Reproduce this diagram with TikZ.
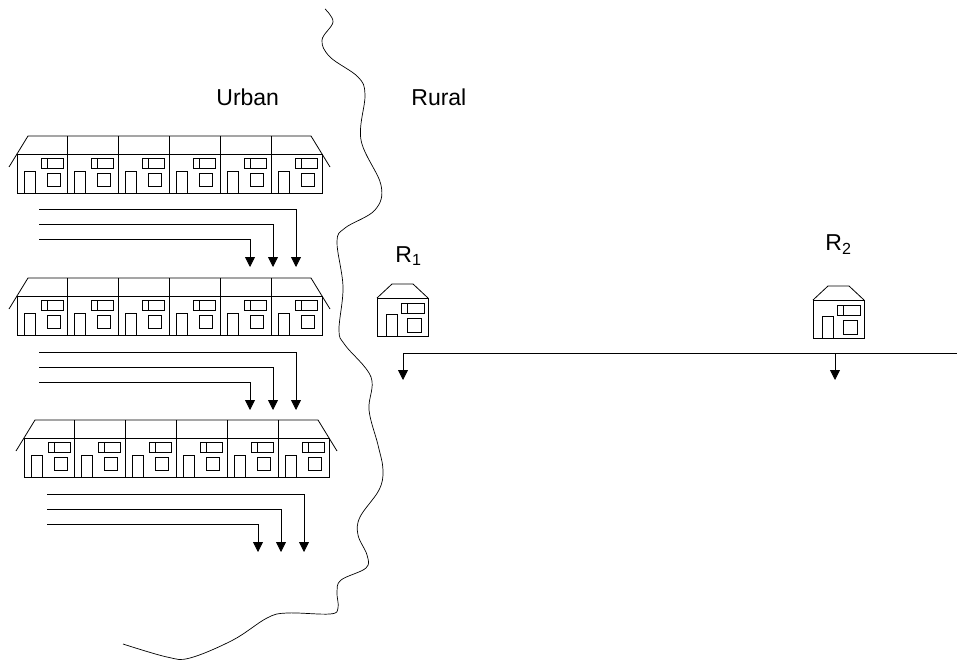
\documentclass[tikz,border=0pt]{standalone}
\usepackage{fontspec}
\setmainfont{Liberation Sans}
\usetikzlibrary{arrows.meta}
\begin{document}
\begin{tikzpicture}[x=1pt,y=-1pt,line width=0.8pt,
  flow/.style={-{Triangle[width=10pt,length=10pt]}},
  caption/.style={font=\fontsize{23}{27}\selectfont,inner sep=0pt,anchor=base west},
  % one dwelling of a terrace, origin at its bottom-left corner
  dwelling/.pic={
    \draw (7,0) rectangle (18,-22);
    \draw (30,-7) rectangle (43,-20);
    \draw (24,-25) rectangle (46,-35);
    \draw (30,-25) -- (30,-35);
  },
  % a row of six terraced houses, origin at the bottom-left wall corner
  terrace/.pic={
    \draw (0,0) rectangle (305,-39);
    \draw (-8,-26) -- (11,-57) -- (294,-57) -- (313,-26);
    \foreach \k in {1,...,5} \draw ({\k*50.833},0) -- ({\k*50.833},-57);
    \foreach \k in {0,...,5} \pic at ({\k*50.833},0) {dwelling};
  },
  % a detached rural house, origin at the bottom-left wall corner
  farmhouse/.pic={
    \draw (0,0) rectangle (51,-38);
    \draw (0,-38) -- (15,-52) -- (36,-52) -- (51,-38);
    \draw (9,0) rectangle (20,-22);
    \draw (24,-23) rectangle (47,-33);
    \draw (30,-23) -- (30,-33);
    \draw (30,-4) rectangle (44,-18);
  }]
\useasboundingbox (0,0) rectangle (957,660);

% boundary between town and countryside
\draw[line width=0.7pt] plot[smooth,tension=0.6] coordinates {
  (325,9) (333,22) (322,40) (330,57) (358,77) (365,95) (361,140) (381,185)
  (375,210) (345,228) (337,242) (343,287) (339,330) (345,345) (371,377)
  (369,410) (378,445) (383,470) (379,490) (360,517) (358,535) (367,555)
  (366,568) (341,580) (337,592) (338,608) (330,614) (287,613) (267,618)
  (233,640) (190,658) (167,657) (123,644)};

% labels
\node[caption] (urban) at (216,106) {Urban};
\node[caption] (rural) at (411,106) {Rural};
\node[caption] (r1) at (395,262) {R\textsubscript{1}};
\node[caption] (r2) at (825,251) {R\textsubscript{2}};

% urban terraces
\pic at (17,193) {terrace};
\pic at (17,335) {terrace};
\pic at (24,477) {terrace};

% rural houses
\pic at (377,336) {farmhouse};
\pic at (813,338) {farmhouse};

% flows below each terrace
\foreach \row/\dx/\dy in {1/0/0, 2/0/143, 3/8/285} {
  \coordinate (s\row a) at (39+\dx,209+\dy);
  \coordinate (s\row b) at (39+\dx,224+\dy);
  \coordinate (s\row c) at (39+\dx,239+\dy);
  \coordinate (t\row a) at (296+\dx,267+\dy);
  \coordinate (t\row b) at (273+\dx,267+\dy);
  \coordinate (t\row c) at (250+\dx,267+\dy);
  \draw[flow] (s\row a) -| (t\row a);
  \draw[flow] (s\row b) -| (t\row b);
  \draw[flow] (s\row c) -| (t\row c);
}

% rural flow line
\coordinate (rend) at (957,353);
\coordinate (r1t) at (403,380);
\coordinate (r2s) at (835,353);
\coordinate (r2t) at (835,380);
\draw[flow] (rend) -| (r1t);
\draw[flow] (r2s) -- (r2t);
\end{tikzpicture}
\end{document}
